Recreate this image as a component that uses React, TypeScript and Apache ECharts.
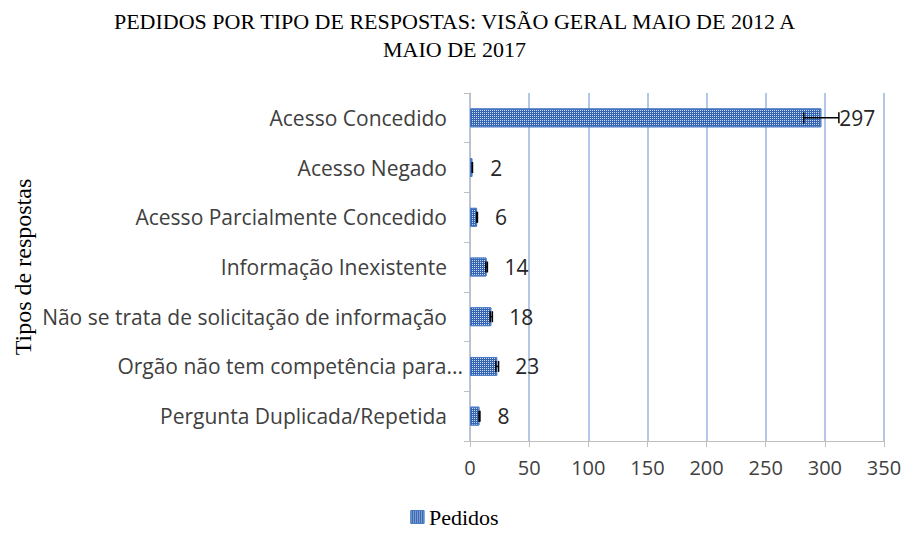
import React, { useEffect, useRef } from "react";
import * as echarts from "echarts";

const categories = [
  "Acesso Concedido",
  "Acesso Negado",
  "Acesso Parcialmente Concedido",
  "Informação Inexistente",
  "Não se trata de solicitação de informação",
  "Orgão não tem competência para...",
  "Pergunta Duplicada/Repetida",
];
const pedidos = [297, 2, 6, 14, 18, 23, 8];
const errorPct = 0.05;
const xTicks = [0, 50, 100, 150, 200, 250, 300, 350];

const LABEL_FONT = "'Open Sans', Lato, sans-serif";
const SERIF = "'Liberation Serif', 'DejaVu Serif', serif";

const decal = {
  symbol: "rect",
  symbolSize: 1,
  color: "rgba(220,232,252,0.9)",
  dashArrayX: [1, 1],
  dashArrayY: [1, 1],
};

export default function App() {
  const ref = useRef<HTMLDivElement>(null);
  useEffect(() => {
    if (!ref.current) return;
    const chart = echarts.init(ref.current, undefined, { renderer: "svg" });
    const errData = pedidos.map((v, i) => [i, v - v * errorPct, v + v * errorPct]);
    const yData = categories.map((c) =>
      c.endsWith("...") ? { value: c, textStyle: { padding: [0, -16, 0, 0] } } : c
    );
    const legendText = {
      fontFamily: SERIF,
      fontSize: 22,
      color: "#000",
    };
    chart.setOption({
      animation: false,
      title: {
        text: "PEDIDOS POR TIPO DE RESPOSTAS: VISÃO GERAL MAIO DE 2012 A\nMAIO DE 2017",
        left: "center",
        top: 2,
        textStyle: {
          fontFamily: SERIF,
          fontWeight: "normal",
          fontSize: 22,
          color: "#000",
          lineHeight: 28,
        },
      },
      legend: {
        bottom: 2,
        left: "center",
        data: [
          {
            name: "Pedidos",
            icon: "rect",
            textStyle: legendText,
            itemStyle: { color: "#3565b0", borderColor: "#4a7bc4", borderWidth: 1, decal },
          },
        ],
        itemWidth: 13,
        itemHeight: 13,
        itemGap: 4,
        textStyle: legendText,
      },
      grid: { left: 470, right: 25, top: 93, bottom: 94, containLabel: false },
      xAxis: {
        type: "value",
        min: 0,
        max: 350,
        interval: 50,
        axisLine: { show: true, lineStyle: { color: "#bfbfbf", width: 1 } },
        axisTick: { show: true, length: 6, lineStyle: { color: "#bfbfbf" } },
        splitLine: { show: true, lineStyle: { color: "#b4c7e7", width: 2 } },
        axisLabel: {
          fontFamily: LABEL_FONT,
          fontSize: 20,
          color: "#404040",
          margin: 16,
          formatter: (v: number) => (xTicks.includes(v) ? String(v) : ""),
        },
      },
      yAxis: {
        type: "category",
        data: yData,
        inverse: true,
        name: "Tipos de respostas",
        nameLocation: "middle",
        nameRotate: 90,
        nameGap: 435,
        nameTextStyle: { fontFamily: SERIF, fontSize: 24, color: "#000" },
        axisLine: { show: true, lineStyle: { color: "#bfbfbf", width: 1 } },
        axisTick: { show: true, length: 6, lineStyle: { color: "#bfbfbf" } },
        axisLabel: {
          fontFamily: LABEL_FONT,
          fontSize: 21,
          color: "#404040",
          margin: 23,
        },
      },
      series: [
        {
          name: "Pedidos",
          type: "bar",
          data: pedidos,
          barWidth: "38%",
          itemStyle: {
            color: "#3565b0",
            borderColor: "#4a7bc4",
            borderWidth: 1,
            decal,
          },
          label: {
            show: true,
            position: "right",
            distance: 18,
            fontFamily: LABEL_FONT,
            fontSize: 21,
            color: "#262626",
          },
          z: 2,
        },
        {
          name: "err",
          type: "custom",
          data: errData,
          z: 3,
          silent: true,
          encode: { y: 0, x: [1, 2] },
          renderItem: (params: any, api: any) => {
            const cat = api.value(0);
            const lo = api.coord([api.value(1), cat]);
            const hi = api.coord([api.value(2), cat]);
            const h = 5.5;
            const style = { stroke: "#000", lineWidth: 1.5 };
            return {
              type: "group",
              children: [
                { type: "line", shape: { x1: lo[0], y1: lo[1], x2: hi[0], y2: hi[1] }, style },
                { type: "line", shape: { x1: lo[0], y1: lo[1] - h, x2: lo[0], y2: lo[1] + h }, style },
                { type: "line", shape: { x1: hi[0], y1: hi[1] - h, x2: hi[0], y2: hi[1] + h }, style },
              ],
            };
          },
        },
      ],
    });
    return () => chart.dispose();
  }, []);
  return <div ref={ref} style={{ width: 909, height: 535, margin: -8, background: "#fff" }} />;
}
